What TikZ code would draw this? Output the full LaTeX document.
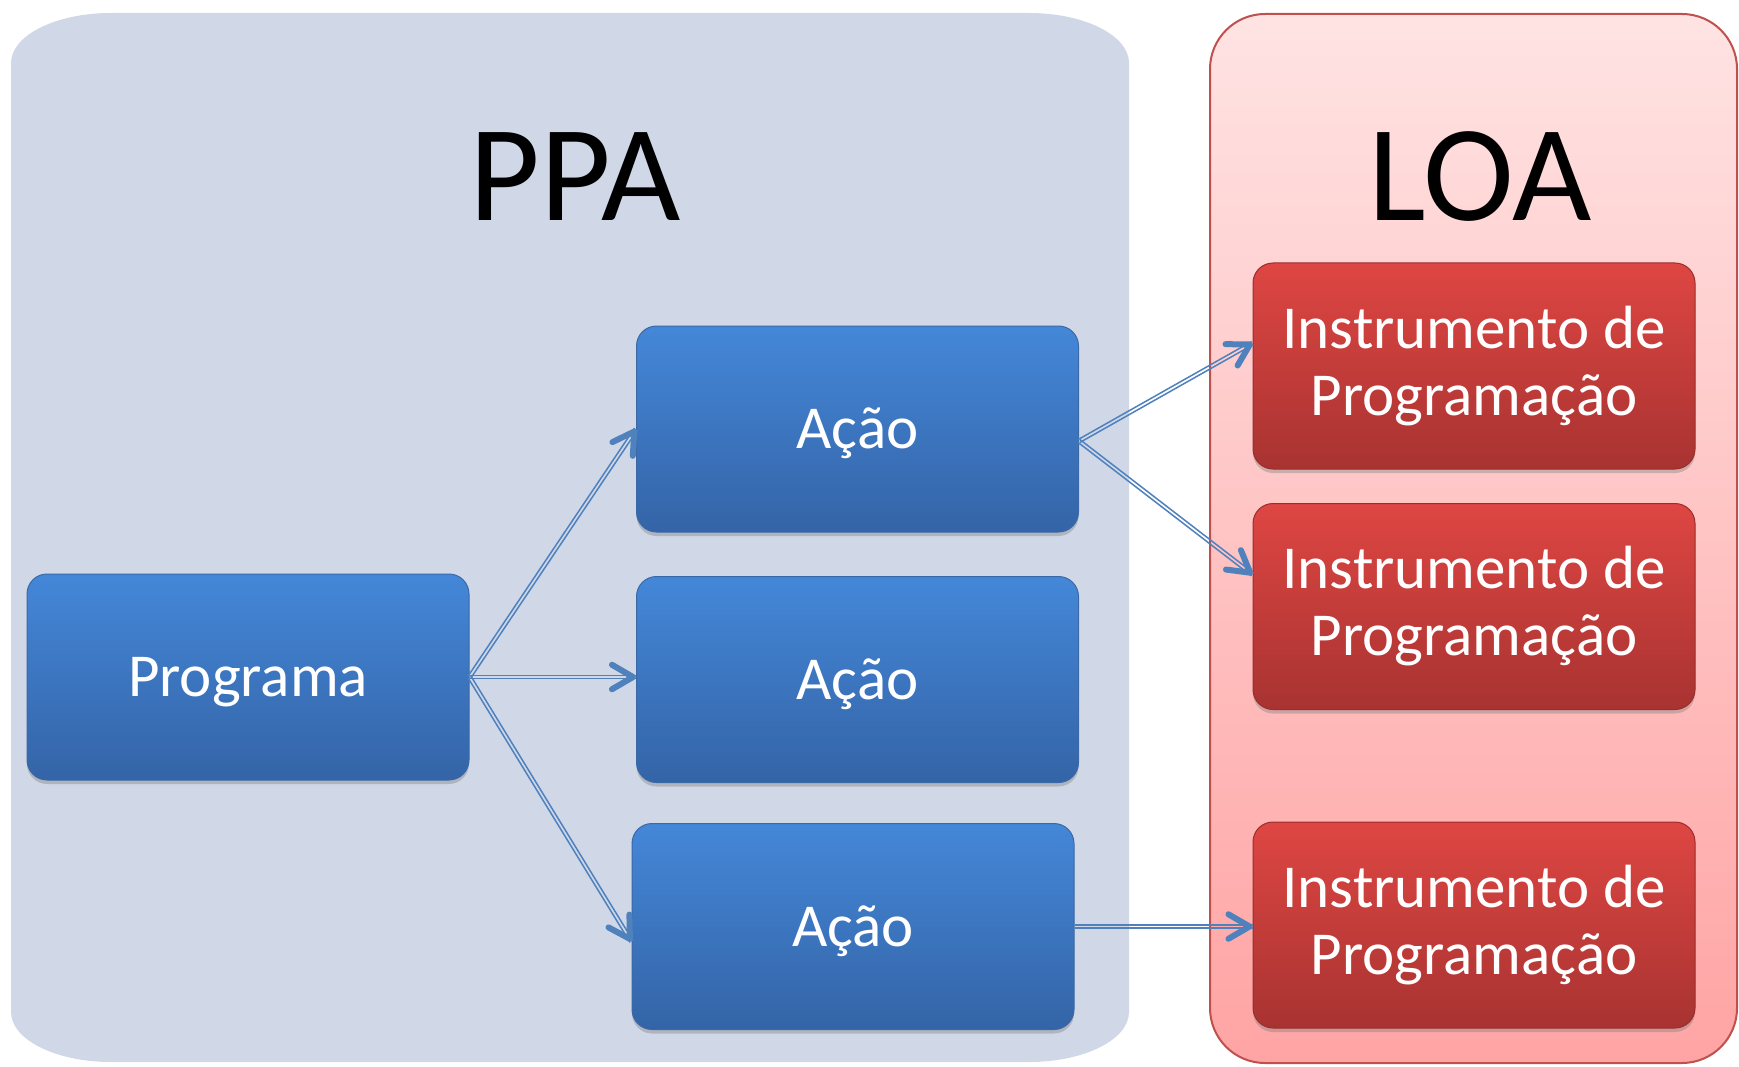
\documentclass[tikz,border=0pt]{standalone}
\usepackage{fontspec}
\setmainfont{Carlito}
\usetikzlibrary{shadows,calc}
\definecolor{ppabg}{HTML}{D0D8E8}
\definecolor{loatop}{HTML}{FFE3E3}
\definecolor{loabot}{HTML}{FFA4A4}
\definecolor{loaedge}{HTML}{C0504D}
\definecolor{bluetop}{HTML}{4487D8}
\definecolor{bluebot}{HTML}{3464A7}
\definecolor{blueedge}{HTML}{3A69A6}
\definecolor{redtop}{HTML}{DE4643}
\definecolor{redbot}{HTML}{A83331}
\definecolor{rededge}{HTML}{9A2E2B}
\definecolor{arrowc}{HTML}{4F81BD}
\newcommand\dblarrow[2]{%
  \draw[arrowline] ($#1!1.7pt!90:#2$) -- ($#2!1.7pt!-90:#1$);
  \draw[arrowline] ($#1!1.7pt!-90:#2$) -- ($#2!1.7pt!90:#1$);
  \draw[tipline] ($#2!27pt!27:#1$) -- ($#2!3pt!#1$) -- ($#2!27pt!-27:#1$);}
\tikzset{
  boxbase/.style={rounded corners=20pt, minimum width=442pt, minimum height=206pt,
    inner sep=0pt, font=\fontsize{61}{67}\selectfont, text=white, align=center,
    drop shadow={shadow xshift=0pt, shadow yshift=-4pt, opacity=0.4}},
  bluebox/.style={boxbase, top color=bluetop, bottom color=bluebot, draw=blueedge,
    line width=1pt, text height=39pt, text depth=0pt},
  redbox/.style={boxbase, top color=redtop, bottom color=redbot, draw=rededge, line width=1pt},
  arrowline/.style={draw=arrowc, line width=1.5pt},
  tipline/.style={draw=arrowc, line width=6pt, line cap=round, line join=round},
  titletext/.style={font=\fontsize{137}{150}\selectfont, text=black, inner sep=0pt},
}
\begin{document}
\begin{tikzpicture}[x=1pt, y=-1pt]
  \useasboundingbox (0,0) rectangle (1739,1067);
  \fill[white] (0,0) rectangle (1739,1067);
  % PPA background with elliptical corners
  \fill[ppabg] (11,63) arc[start angle=180, end angle=270, x radius=100, y radius=50]
    -- (1029,13) arc[start angle=270, end angle=360, x radius=100, y radius=50]
    -- (1129,1012) arc[start angle=0, end angle=90, x radius=100, y radius=50]
    -- (111,1062) arc[start angle=90, end angle=180, x radius=100, y radius=50] -- cycle;
  % LOA background
  \draw[draw=loaedge, line width=2pt, top color=loatop, bottom color=loabot,
    rounded corners=55pt] (1210,14) rectangle (1737,1063);
  % titles
  \node[titletext] (ppa) at (575,177) {PPA};
  \node[titletext] (loa) at (1480,177) {LOA};
  % boxes
  \node[bluebox] (prog) at (248,677) {Programa};
  \node[bluebox] (a1) at (857.5,429) {Ação};
  \node[bluebox] (a2) at (857.5,679.5) {Ação};
  \node[bluebox] (a3) at (853,926.5) {Ação};
  \node[redbox] (i1) at (1474,366) {Instrumento de\\Programação};
  \node[redbox] (i2) at (1474,606.5) {Instrumento de\\Programação};
  \node[redbox] (i3) at (1474,925) {Instrumento de\\Programação};
  % connector end points
  \coordinate (pA) at (prog.east -| a2.west);
  \coordinate (pB) at ([yshift=-15pt]a3.west);
  \coordinate (s1) at ([yshift=-12pt]a1.east);
  \coordinate (t1) at ([yshift=23pt]i1.west);
  \coordinate (t2) at ([yshift=32pt]i2.west);
  \coordinate (t3) at (a3.east -| i3.west);
  % connectors
  \dblarrow{(prog.east)}{(a1.west)}
  \dblarrow{(prog.east)}{(pA)}
  \dblarrow{(prog.east)}{(pB)}
  \dblarrow{(s1)}{(t1)}
  \dblarrow{(s1)}{(t2)}
  \dblarrow{(a3.east)}{(t3)}
\end{tikzpicture}
\end{document}
